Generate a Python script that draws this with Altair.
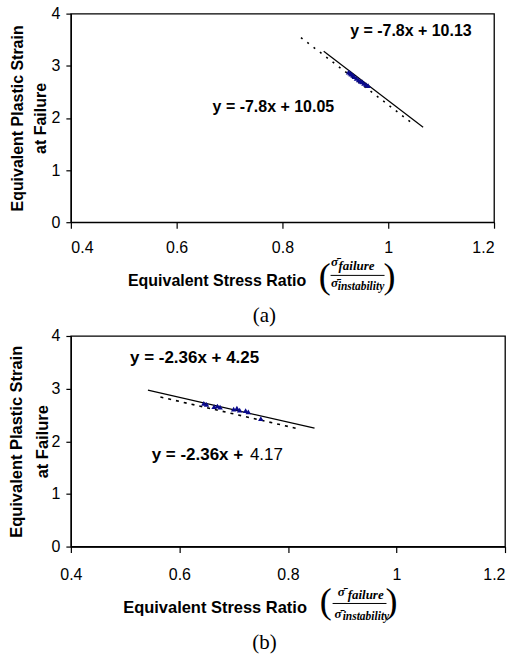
import altair as alt
import pandas as pd

# ---------------- data: panel (a) ----------------
a_pts_x = [0.925, 0.928, 0.930, 0.933, 0.936, 0.940, 0.944, 0.948, 0.951, 0.954, 0.958, 0.962]
a_pts_y = [2.88, 2.86, 2.84, 2.82, 2.79, 2.76, 2.73, 2.70, 2.69, 2.66, 2.64, 2.62]
a_fit_x = [0.878, 1.066]      # y = -7.8x + 10.13 (solid)
a_fit_y = [3.28, 1.82]
a_low_x = [0.835, 1.05]       # y = -7.8x + 10.05 (dotted)
a_low_y = [3.54, 1.86]
a_eq_text = ["y = -7.8x + 10.13", "y = -7.8x + 10.05"]
a_eq_x = [0.928, 0.668]
a_eq_y = [3.66, 2.20]

# ---------------- data: panel (b) ----------------
b_pts_x = [0.645, 0.650, 0.664, 0.670, 0.675, 0.700, 0.706, 0.711, 0.722, 0.727, 0.750]
b_pts_y = [2.72, 2.70, 2.66, 2.67, 2.65, 2.61, 2.63, 2.59, 2.58, 2.56, 2.43]
b_fit_x = [0.542, 0.849]      # y = -2.36x + 4.25 (solid)
b_fit_y = [2.97, 2.25]
b_low_x = [0.565, 0.820]      # y = -2.36x + 4.17 (dashed)
b_low_y = [2.84, 2.235]
b_eq_text = ["y = -2.36x + 4.25", "y = -2.36x +"]
b_eq_x = [0.509, 0.549]
b_eq_y = [3.58, 1.74]
b_eq_plain_text = ["4.17"]
b_eq_plain_x = [0.730]
b_eq_plain_y = [1.74]

x_ticks = [0.4, 0.6, 0.8, 1.0, 1.2]
y_ticks = [0, 1, 2, 3, 4]
x_title = "Equivalent Stress Ratio"
y_title = ["Equivalent Plastic Strain", "at Failure"]

SIG = "\u03c3\u0304"
frac_num_sym = [SIG]
frac_num_sub = ["failure"]
frac_den_sym = [SIG]
frac_den_sub = ["instability"]

# fraction annotation anchors (data units of each panel)
a_frac = dict(lp=(0.8915, -1.05), rp=(0.991, -1.05), ns=(0.892, -0.84), nsub=(0.906, -0.92),
              rule=(0.891, 0.993, -1.02), ds=(0.892, -1.25), dsub=(0.9045, -1.30))
b_frac = dict(lp=(0.8805, -1.06), rp=(0.980, -1.06), ns=(0.8916, -0.93), nsub=(0.910, -0.99),
              rule=(0.8823, 0.9816, -1.081), ds=(0.886, -1.35), dsub=(0.9008, -1.39))

SANS = "Liberation Sans"
SERIF = "Liberation Serif"


def panel(pts_x, pts_y, fit_x, fit_y, low_x, low_y, eq_text, eq_x, eq_y, frac,
          w, h, label_pad, title_x, title_y, title_fs, eq_fs, line_h, title_pad, dash,
          caption, cap_dx, cap_off, plain=None, last_right=False):
    xs = alt.Scale(domain=[0.4, 1.2], nice=False, zero=False)
    ys = alt.Scale(domain=[0, 4], nice=False, zero=False)
    xaxis_kw = dict(values=x_ticks, format=".1~f", title=x_title, titleX=title_x,
                    titleY=title_y, titleAlign="center", titleBaseline="alphabetic",
                    titleFontSize=title_fs, tickSize=6, labelPadding=label_pad)
    if last_right:
        xaxis_kw["labelAlign"] = alt.condition("datum.value > 1.1", alt.value("right"),
                                               alt.value("center"))
    X = alt.X("x:Q", scale=xs, axis=alt.Axis(**xaxis_kw))
    Y = alt.Y("y:Q", scale=ys, axis=alt.Axis(
        values=y_ticks, format="d", title=y_title, titleLineHeight=line_h,
        titleFontSize=title_fs, titlePadding=title_pad, tickSize=5, labelPadding=6))

    fit = pd.DataFrame({"x": fit_x, "y": fit_y})
    low = pd.DataFrame({"x": low_x, "y": low_y})
    pts = pd.DataFrame({"x": pts_x, "y": pts_y})
    eqs = pd.DataFrame({"x": eq_x, "y": eq_y, "t": eq_text})

    layers = [
        alt.Chart(fit).mark_line(color="black", strokeWidth=1.2).encode(x=X, y=Y),
        alt.Chart(low).mark_line(color="black", strokeWidth=1.6, strokeDash=dash).encode(x=X, y=Y),
        alt.Chart(pts).mark_point(shape="triangle-up", filled=True, color="#0a0a8c",
                                  size=30, opacity=1).encode(x=X, y=Y),
        alt.Chart(eqs).mark_text(font=SANS, fontSize=eq_fs, fontWeight="bold", align="left",
                                 baseline="middle", color="black").encode(x=X, y=Y, text="t:N"),
    ]
    if plain is not None:
        pl = pd.DataFrame({"x": plain[1], "y": plain[2], "t": plain[0]})
        layers.append(alt.Chart(pl).mark_text(font=SANS, fontSize=eq_fs, align="left",
                                              baseline="middle", color="black")
                      .encode(x=X, y=Y, text="t:N"))

    def txt(pos, label, **kw):
        d = pd.DataFrame({"x": [pos[0]], "y": [pos[1]], "t": label})
        return alt.Chart(d).mark_text(color="black", **kw).encode(x=X, y=Y, text="t:N")

    layers += [
        txt(frac["lp"], ["("], font=SERIF, fontSize=36, align="right", baseline="middle"),
        txt(frac["rp"], [")"], font=SERIF, fontSize=36, align="left", baseline="middle"),
        txt(frac["ns"], frac_num_sym, font=SERIF, fontSize=13, fontWeight="bold",
            fontStyle="italic", align="left", baseline="alphabetic"),
        txt(frac["nsub"], frac_num_sub, font=SERIF, fontSize=13, fontWeight="bold",
            fontStyle="italic", align="left", baseline="alphabetic"),
        txt(frac["ds"], frac_den_sym, font=SERIF, fontSize=13, fontWeight="bold",
            fontStyle="italic", align="left", baseline="alphabetic"),
        txt(frac["dsub"], frac_den_sub, font=SERIF, fontSize=11.5, fontWeight="bold",
            fontStyle="italic", align="left", baseline="alphabetic"),
    ]
    r = frac["rule"]
    rd = pd.DataFrame({"x": [r[0]], "x2": [r[1]], "y": [r[2]]})
    layers.append(alt.Chart(rd).mark_rule(color="black", strokeWidth=1)
                  .encode(x=X, x2="x2:Q", y=Y))

    return alt.layer(*layers).properties(
        width=w, height=h,
        title=alt.TitleParams(caption, orient="bottom", font=SERIF, fontSize=21,
                              fontWeight="normal", color="black", dx=cap_dx, offset=cap_off),
    )


pa = panel(a_pts_x, a_pts_y, a_fit_x, a_fit_y, a_low_x, a_low_y, a_eq_text, a_eq_x, a_eq_y,
           a_frac, 424, 209, 11, 146, 63, 16, 16, 24, 2, [2, 6], "(a)", -18, 10)
pb = panel(b_pts_x, b_pts_y, b_fit_x, b_fit_y, b_low_x, b_low_y, b_eq_text, b_eq_x, b_eq_y,
           b_frac, 435, 211, 14, 144, 66, 16.5, 17, 27, 0, [3, 5], "(b)", -23.5, 10,
           plain=(b_eq_plain_text, b_eq_plain_x, b_eq_plain_y), last_right=True)

chart = alt.vconcat(pa, pb, spacing=0).resolve_scale(
    x="independent", y="independent"
).resolve_axis(
    x="independent", y="independent"
).properties(
    padding={"left": 7, "top": 4, "right": 0, "bottom": 0},
    background="white",
).configure_view(stroke="black", strokeWidth=1.3).configure_axis(
    domainColor="black", tickColor="black", labelColor="black", titleColor="black",
    labelFont=SANS, labelFontSize=16, titleFont=SANS, titleFontSize=16,
    titleFontWeight="bold", grid=False, domainWidth=1.3, tickWidth=1.2,
)

chart.save("out.html", embed_options={"renderer": "svg", "actions": False})
